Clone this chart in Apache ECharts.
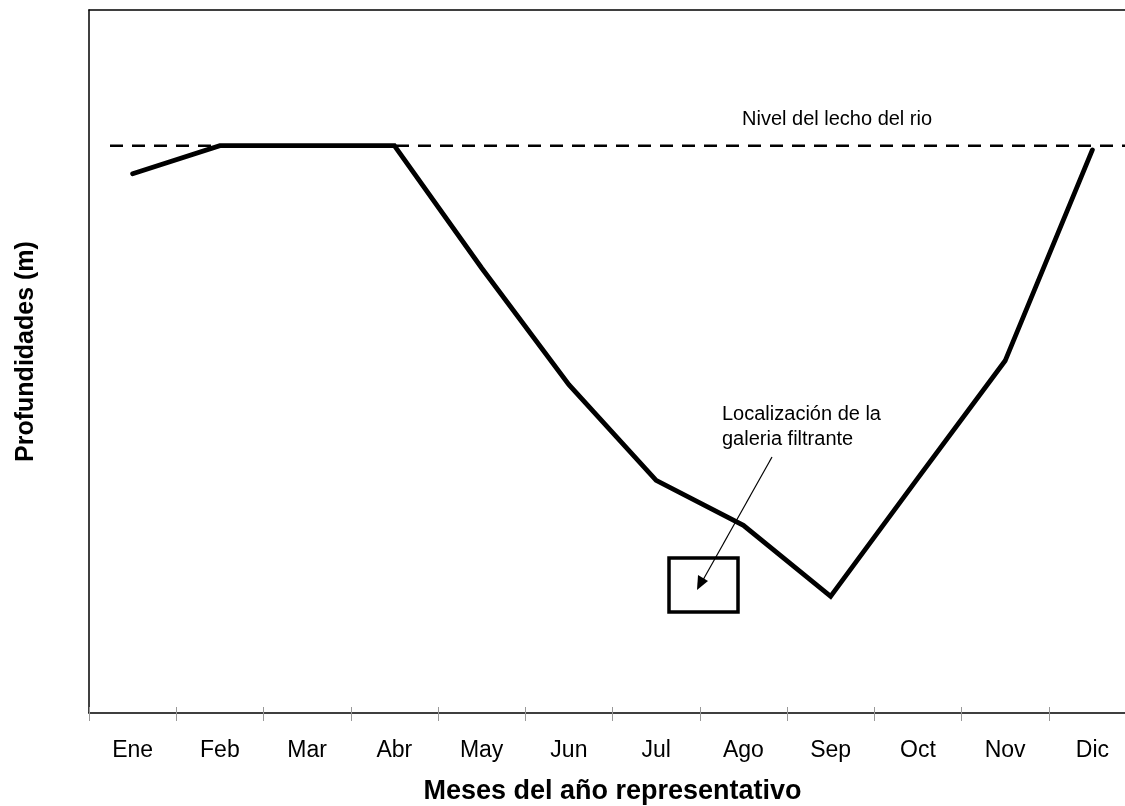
<!DOCTYPE html>
<html>
<head>
<meta charset="utf-8">
<script src="https://cdn.jsdelivr.net/npm/echarts@6/dist/echarts.min.js"></script>
<style>
  html, body { margin: 0; padding: 0; background: #fff; }
  #chart { width: 1125px; height: 806px; }
</style>
</head>
<body>
<div id="chart"></div>
<script>
// meses y profundidades (escala relativa, 0 = borde superior del gráfico)
const months = ['Ene', 'Feb', 'Mar', 'Abr', 'May', 'Jun', 'Jul', 'Ago', 'Sep', 'Oct', 'Nov', 'Dic'];
const depths = [23.3, 19.3, 19.3, 19.3, 36.7, 53.3, 66.9, 73.3, 83.4, 66.6, 49.9, 19.9];
const riverBedLevel = 19.3;

const chart = echarts.init(document.getElementById('chart'));

const font = 'Liberation Sans, Arial, sans-serif';

chart.setOption({
  animation: false,
  backgroundColor: '#fff',
  grid: { left: 89, top: 10, width: 1047, height: 703, outerBoundsMode: 'none', containLabel: false },
  xAxis: [
    {
      type: 'category',
      data: months,
      boundaryGap: true,
      axisLine: { onZero: false, lineStyle: { color: '#000', width: 1.5 } },
      axisTick: { show: true, length: 8, lineStyle: { color: '#999', width: 1 } },
      axisLabel: { color: '#000', fontSize: 23, fontFamily: font, margin: 26 },
      name: 'Meses del año representativo',
      nameLocation: 'middle',
      nameGap: 65,
      nameTextStyle: { color: '#000', fontSize: 27, fontWeight: 'bold', fontFamily: font }
    },
    {
      // marcas interiores del eje inferior
      type: 'category',
      data: months,
      position: 'bottom',
      axisLine: { show: false, onZero: false },
      axisTick: { show: true, inside: true, length: 6, lineStyle: { color: '#999', width: 1 } },
      axisLabel: { show: false }
    },
    {
      // borde superior
      type: 'category',
      data: months,
      position: 'top',
      axisLine: { onZero: false, lineStyle: { color: '#000', width: 1.5 } },
      axisTick: { show: false },
      axisLabel: { show: false }
    }
  ],
  yAxis: {
    type: 'value',
    inverse: true,
    min: 0,
    max: 100,
    splitLine: { show: false },
    axisLine: { show: true, onZero: false, lineStyle: { color: '#000', width: 1.5 } },
    axisTick: { show: false },
    axisLabel: { show: false },
    name: 'Profundidades (m)',
    nameLocation: 'middle',
    nameGap: 50,
    nameRotate: 90,
    nameTextStyle: { color: '#000', fontSize: 25, fontWeight: 'bold', fontFamily: font, padding: [0, 0, 0, 20] }
  },
  series: [
    {
      type: 'line',
      data: depths,
      symbol: 'none',
      z: 3,
      lineStyle: { color: '#000', width: 4.8, cap: 'round', join: 'miter' }
    }
  ]
});

// línea del lecho del río, posición a partir de la escala
const bedY = chart.convertToPixel({ yAxisIndex: 0 }, riverBedLevel);

chart.setOption({
  graphic: [
    {
      type: 'line',
      z: 1,
      shape: { x1: 110, y1: bedY, x2: 1125, y2: bedY },
      style: { stroke: '#000', lineWidth: 2.5, lineDash: [13, 9] }
    },
    {
      type: 'text', left: 742, top: 109,
      style: { text: 'Nivel del lecho del rio', fontSize: 20, fontFamily: font, fill: '#000' }
    },
    {
      type: 'text', left: 722, top: 402,
      style: { text: 'Localización de la\ngaleria filtrante', fontSize: 20, lineHeight: 25, fontFamily: font, fill: '#000' }
    },
    {
      type: 'rect',
      shape: { x: 669, y: 558, width: 69, height: 54 },
      style: { fill: 'none', stroke: '#000', lineWidth: 3.5 }
    },
    {
      type: 'line',
      shape: { x1: 772, y1: 457, x2: 703, y2: 580 },
      style: { stroke: '#000', lineWidth: 1.2 }
    },
    {
      type: 'polygon',
      shape: { points: [[697, 590], [698, 575], [708, 581]] },
      style: { fill: '#000' }
    }
  ]
});
</script>
</body>
</html>
